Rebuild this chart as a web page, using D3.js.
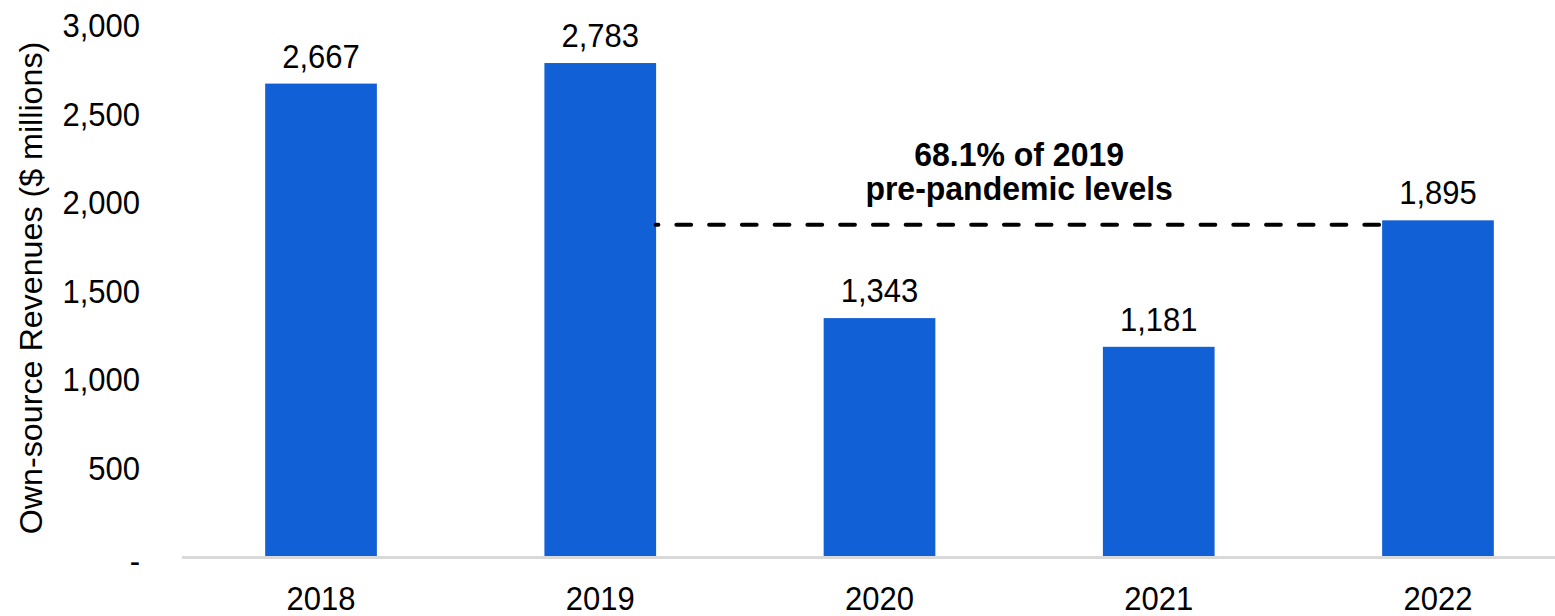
<!DOCTYPE html>
<html>
<head>
<meta charset="utf-8">
<script src="https://cdn.jsdelivr.net/npm/d3@7"></script>
<style>
  html, body { margin: 0; padding: 0; background: #ffffff; }
  svg { display: block; }
  text { font-family: "Liberation Sans", Arial, sans-serif; fill: #000; }
</style>
</head>
<body>
<svg id="chart" width="1555" height="616"></svg>
<script>
// Own-source revenues by year ($ millions)
const years = ["2018", "2019", "2020", "2021", "2022"];
const revenues = [2667, 2783, 1343, 1181, 1895];
const yTicks = [0, 500, 1000, 1500, 2000, 2500, 3000];
const annotationLines = ["68.1% of 2019", "pre-pandemic levels"];
const compareFrom = "2019";
const compareTo = "2022";

const W = 1555, H = 616;
const STRETCH = "scale(1,1.08)"; // glyphs are drawn slightly taller than wide
const svg = d3.select("#chart");
svg.append("rect").attr("width", W).attr("height", H).attr("fill", "#ffffff");

const x = d3.scaleBand()
  .domain(years)
  .range([181.4, 1577.6])
  .paddingInner(0.6)
  .paddingOuter(0.3);

const y = d3.scaleLinear()
  .domain([0, 3000])
  .range([556, 24.6]);

const fmt = d3.format(",");
const data = years.map((yr, i) => ({ year: yr, value: revenues[i] }));

// Bars
svg.append("g")
  .selectAll("rect")
  .data(data)
  .join("rect")
  .attr("x", d => x(d.year))
  .attr("y", d => y(d.value))
  .attr("width", x.bandwidth())
  .attr("height", d => y(0) - y(d.value))
  .attr("fill", "#1260d5");

// Baseline
svg.append("line")
  .attr("x1", 182).attr("x2", W)
  .attr("y1", y(0) + 1.5).attr("y2", y(0) + 1.5)
  .attr("stroke", "#d9d9d9")
  .attr("stroke-width", 3);

// Y axis (labels only)
const yAxis = d3.axisLeft(y)
  .tickValues(yTicks)
  .tickSize(0)
  .tickPadding(0)
  .tickFormat(d => d === 0 ? "-" : fmt(d));
const gy = svg.append("g")
  .attr("transform", "translate(140,0)")
  .call(yAxis);
gy.select(".domain").remove();
gy.selectAll("text")
  .attr("font-size", 31)
  .attr("font-family", "'Liberation Sans', Arial, sans-serif")
  .attr("fill", "#000")
  .attr("dy", "0.36em")
  .attr("transform", STRETCH);
gy.selectAll(".tick").filter(d => d === 0).select("text").attr("dy", "0.5em");

// X axis (labels only)
const xAxis = d3.axisBottom(x).tickSize(0).tickPadding(0);
const gx = svg.append("g")
  .attr("transform", "translate(0,610)")
  .call(xAxis);
gx.select(".domain").remove();
gx.selectAll("text")
  .attr("font-size", 31)
  .attr("font-family", "'Liberation Sans', Arial, sans-serif")
  .attr("fill", "#000")
  .attr("dy", 0)
  .attr("transform", STRETCH);

// Y axis title
svg.append("text")
  .attr("transform", "translate(42,288) rotate(-90) scale(1.04,1)")
  .attr("text-anchor", "middle")
  .attr("font-size", 31)
  .text("Own-source Revenues ($ millions)");

// Value labels
svg.append("g")
  .selectAll("text")
  .data(data)
  .join("text")
  .attr("transform", d => `translate(${x(d.year) + x.bandwidth() / 2},${y(d.value) - 16}) ${STRETCH}`)
  .attr("text-anchor", "middle")
  .attr("font-size", 31)
  .text(d => fmt(d.value));

// Dashed comparison line between the 2019 and 2022 bars, at the 2022 level
const toVal = revenues[years.indexOf(compareTo)];
const lineY = y(toVal) + 4.5;
svg.append("line")
  .attr("x1", x(compareFrom) + x.bandwidth() - 0.5)
  .attr("x2", x(compareTo) - 2)
  .attr("y1", lineY).attr("y2", lineY)
  .attr("stroke", "#000")
  .attr("stroke-width", 4)
  .attr("stroke-linecap", "round")
  .attr("stroke-dasharray", "14.76 18")
  .attr("stroke-dashoffset", 12);

// Annotation
const annX = (x(compareFrom) + x.bandwidth() + x(compareTo)) / 2;
svg.append("g")
  .selectAll("text")
  .data(annotationLines)
  .join("text")
  .attr("transform", (d, i) => `translate(${annX},${166 + i * 34}) scale(1,1.04)`)
  .attr("text-anchor", "middle")
  .attr("font-size", 32)
  .attr("font-weight", "bold")
  .text(d => d);
</script>
</body>
</html>
